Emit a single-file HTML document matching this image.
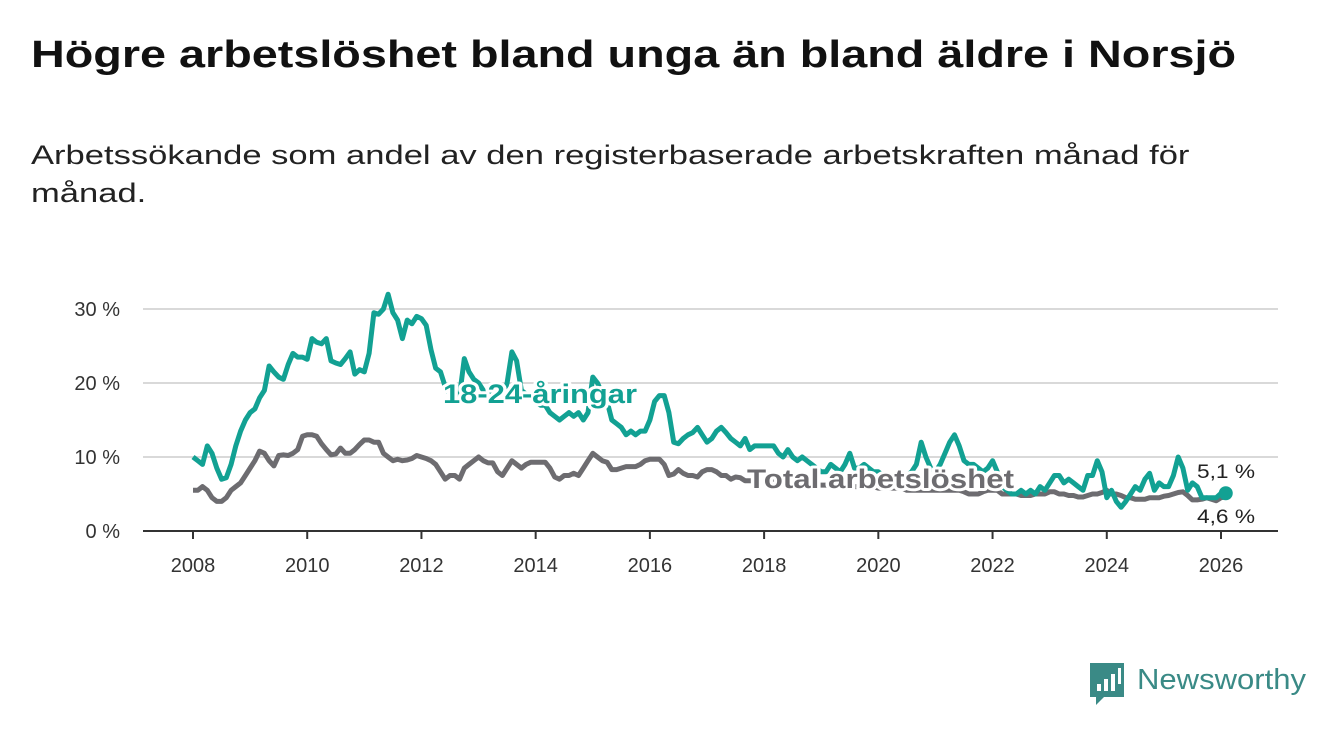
<!DOCTYPE html>
<html><head><meta charset="utf-8"><style>
body{margin:0;width:1340px;height:734px;background:#fff;overflow:hidden;font-family:"Liberation Sans",sans-serif}
h1{position:absolute;left:31px;top:34px;margin:0;font-size:38px;font-weight:bold;color:#111;white-space:nowrap;transform:scaleX(1.23);transform-origin:0 0}
p{position:absolute;left:31px;top:136px;margin:0;font-size:27px;line-height:38px;color:#222;white-space:nowrap;transform:scaleX(1.28);transform-origin:0 0}
svg{position:absolute;left:0;top:0}
</style></head><body>
<h1>Högre arbetslöshet bland unga än bland äldre i Norsjö</h1>
<p>Arbetssökande som andel av den registerbaserade arbetskraften månad för<br>månad.</p>
<svg id="c" width="1340" height="734"></svg>
<script>
const startYear = 2008;
const yTicks = [0, 10, 20, 30];
const xTicks = [2008, 2010, 2012, 2014, 2016, 2018, 2020, 2022, 2024, 2026];
const youth = [
10,9.5,9,11.5,10.5,8.5,7,7.2,9,11.5,13.5,15,
16,16.5,18,19,22.3,21.5,20.8,20.5,22.5,24,23.5,23.5,
23.2,26,25.5,25.3,26,23,22.7,22.5,23.3,24.2,21.2,21.8,
21.5,24,29.5,29.3,30,32,29.5,28.5,26,28.5,28,29,
28.7,27.8,24.5,22,21.5,19.5,18.5,18,18.2,23.3,21.5,20.5,
20,19,18.5,18.5,18,18,20,24.2,23,19,18.5,18,
17.5,17,17,16,15.5,15,15.5,16,15.5,16,15,16,
20.8,20,18.5,17.5,15,14.5,14,13,13.5,13,13.5,13.5,
15,17.5,18.3,18.3,16,12,11.8,12.5,13,13.3,14,13,
12,12.5,13.5,14,13.3,12.5,12,11.5,12.5,11,11.5,11.5,
11.5,11.5,11.5,10.5,10,11,10,9.5,10,9.5,9,8.5,
8,8,9,8.5,8,9,10.5,8.5,8.5,9,8.5,8,
8,7.5,7.5,7,7,7,7.5,8,9,12,10,8.5,
8,9,10.5,12,13,11.5,9.5,9,9,8.5,8,8.5,
9.5,8,6,5.5,5,5,5.5,5,5.5,5,6,5.5,
6.5,7.5,7.5,6.5,7,6.5,6,5.5,7.5,7.5,9.5,8,
4.5,5.5,4,3.2,4,5,6,5.5,7,7.8,5.5,6.5,
6,6,7.5,10,8.5,5.5,6.5,6,4.5,4.5,4.5,4.5,
5.1,5.1];
const total = [
5.5,5.5,6,5.5,4.5,4,4,4.5,5.5,6,6.5,7.5,
8.5,9.5,10.8,10.5,9.5,8.8,10.2,10.3,10.2,10.5,11,12.8,
13,13,12.8,11.8,11,10.3,10.4,11.2,10.5,10.5,11,11.7,
12.3,12.3,12,12,10.5,10,9.5,9.7,9.5,9.6,9.8,10.2,
10,9.8,9.5,9,8,7,7.5,7.5,7,8.5,9,9.5,
10,9.5,9.2,9.2,8,7.5,8.5,9.5,9,8.5,9,9.3,
9.3,9.3,9.3,8.5,7.3,7,7.5,7.5,7.8,7.5,8.5,9.5,
10.5,10,9.5,9.3,8.3,8.3,8.5,8.7,8.7,8.7,9,9.5,
9.7,9.7,9.7,9,7.5,7.7,8.3,7.8,7.5,7.5,7.3,8,
8.3,8.3,8,7.5,7.5,7,7.3,7.2,6.8,6.8,6.8,6.5,
7,7,7,6.8,6.8,6.5,6.5,6.3,6.3,6.3,6.3,6.2,
6.2,6.2,6,6,6,6,6,6,6,6,6,6,
5.8,5.8,5.8,5.8,5.8,5.8,5.5,5.5,5.5,5.5,5.5,5.5,
5.5,5.5,5.5,5.5,5.5,5.5,5.3,5,5,5,5.3,5.5,
5.5,5.5,5,5,5,5,4.8,4.8,4.8,5,5,5,
5.3,5.3,5,5,4.8,4.8,4.6,4.6,4.8,5,5,5.2,
5.5,5,5,4.8,4.5,4.5,4.3,4.3,4.3,4.5,4.5,4.5,
4.7,4.8,5,5.2,5.3,4.8,4.2,4.2,4.3,4.5,4.3,4.1,
4.5,4.6];
const svg=document.getElementById('c');const NS='http://www.w3.org/2000/svg';
const x=t=>193+(t-2008)*(1221-193)/18;
const y=v=>531-v*7.4;
function mk(tag,attrs,parent){const e=document.createElementNS(NS,tag);for(const k in attrs)e.setAttribute(k,attrs[k]);(parent||svg).appendChild(e);return e;}
yTicks.forEach(v=>{
 if(v>0){const g=mk('line',{x1:143,x2:1278,y1:y(v),y2:y(v),stroke:'#d9d9d9','stroke-width':2});
 
 }
 const t=mk('text',{x:120,y:y(v)+7,'text-anchor':'end','font-size':20,fill:'#333'});t.textContent=v+' %';
 
 
});
const ax=mk('line',{x1:143,x2:1278,y1:531,y2:531,stroke:'#333','stroke-width':2});


xTicks.forEach(yr=>{
 const tk=mk('line',{x1:x(yr),x2:x(yr),y1:531,y2:539,stroke:'#333','stroke-width':2});
 
 
 const t=mk('text',{x:x(yr),y:572,'text-anchor':'middle','font-size':20,fill:'#333'});t.textContent=yr;
 
 
});
function pts(a){return a.map((v,i)=>x(startYear+i/12).toFixed(1)+','+y(v).toFixed(1)).join(' ');}
const lt=mk('polyline',{points:pts(total),fill:'none',stroke:'#6d6c70','stroke-width':5,'stroke-linejoin':'round'});


const ly=mk('polyline',{points:pts(youth),fill:'none',stroke:'#12a193','stroke-width':5,'stroke-linejoin':'round'});


const li=youth.length-1;
const dot=mk('circle',{cx:x(startYear+li/12),cy:y(youth[li]),r:7,fill:'#12a193'});


function lab(txt,xx,yy,size,col,bold,name,len){const a={x:xx,y:yy,'font-size':size,fill:col,'font-weight':bold?'bold':'normal',stroke:'#fff','stroke-width':6,'paint-order':'stroke','stroke-linejoin':'round'};
 if(len){a.textLength=len;a.lengthAdjust='spacingAndGlyphs';}
 const t=mk('text',a);t.textContent=txt;
 
 }
lab('18-24-åringar',443,403,27,'#12a193',true,'youth-series-label',194);
lab('Total arbetslöshet',747,488,27,'#6d6c70',true,'total-series-label',267);
lab('5,1 %',1197,478,19,'#222',false,'youth-end-value',58);
lab('4,6 %',1197,523,19,'#222',false,'total-end-value',58);
</script>
<svg width="1340" height="734">
<path d="M1090 663h34v34h-20l-8 8v-8h-6z" fill="#3a8a86"/>
<rect x="1097" y="684" width="4" height="7" fill="#fff"/><rect x="1104" y="679" width="4" height="12" fill="#fff"/><rect x="1111" y="674" width="4" height="17" fill="#fff"/><rect x="1118" y="668" width="3" height="16" fill="#fff"/>
<text x="1137" y="689" font-size="29" fill="#3a8a86" font-family="Liberation Sans, sans-serif" textLength="169" lengthAdjust="spacingAndGlyphs">Newsworthy</text>
</svg>
</body></html>
